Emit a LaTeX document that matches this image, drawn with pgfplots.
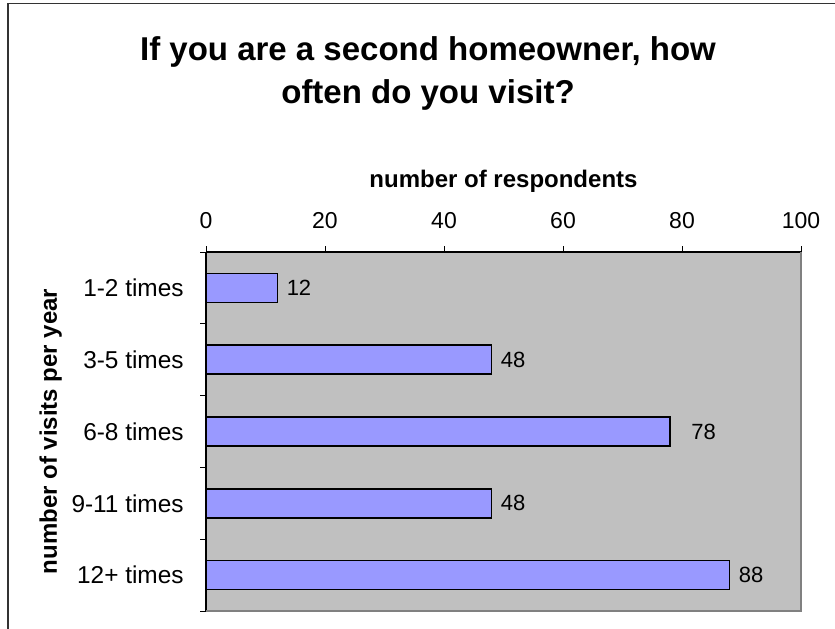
\documentclass[border=0pt]{standalone}
\usepackage{pgfplots}
\usepackage{pgfplotstable}
\pgfplotsset{compat=1.18}
\usepackage{fontspec}
\setmainfont{Liberation Sans}

\definecolor{plotgray}{HTML}{C0C0C0}
\definecolor{barblue}{HTML}{9999FF}
\definecolor{edgegray}{HTML}{808080}

% pos = category row (0 = top), count = respondents, dx = extra label offset
\pgfplotstableread{
pos count dx
0 12 0
1 48 0
2 78 6
3 48 0
4 88 0
}\visits

\begin{document}
\begin{tikzpicture}
\useasboundingbox (0,0) rectangle (417.5pt,-314pt);
\draw[black!80, line width=0.75pt] (4pt,-330pt) -- (4pt,-1.75pt) -- (430pt,-1.75pt);
\node[anchor=base, font=\bfseries\fontsize{16.5}{20}\selectfont] at (214pt,-30pt) {If you are a second homeowner, how};
\node[anchor=base, font=\bfseries\fontsize{16.5}{20}\selectfont] at (214pt,-51.5pt) {often do you visit?};
\begin{axis}[
  at={(103pt,-305.5pt)}, anchor=south west,
  width=297.5pt, height=179.5pt, scale only axis,
  xbar, bar width=14.5pt, bar shift=0pt,
  xmin=0, xmax=100, xtick={0,20,...,100},
  ymin=-0.5, ymax=4.5, y dir=reverse,
  ytick={-0.5,0.5,...,4.5}, yticklabels={},
  extra y ticks={0,1,2,3,4},
  extra y tick labels={1-2 times,3-5 times,6-8 times,9-11 times,12+ times},
  extra y tick style={major tick length=0pt},
  axis x line*=top, axis y line*=left,
  axis line style={line width=0.75pt, black},
  tick align=outside, major tick length=3pt,
  tick style={black, line width=0.5pt},
  axis background/.style={fill=plotgray},
  clip=false,
  /pgf/number format/assume math mode=true,
  tick label style={font=\fontsize{11.5}{13}\selectfont},
  xticklabel style={anchor=south, inner sep=0pt, yshift=8.5pt},
  yticklabel style={anchor=east, inner sep=0pt, xshift=-11pt,
    font=\fontsize{12.2}{14}\selectfont},
  xlabel={number of respondents},
  xlabel style={at={(axis description cs:0.5,1.18106)}, anchor=base,
    font=\bfseries\fontsize{12}{14}\selectfont},
  ylabel={number of visits per year},
  ylabel style={at={(axis description cs:-0.25042,0.5)}, anchor=base,
    font=\bfseries\fontsize{12}{14}\selectfont},
  nodes near coords, point meta=x,
  visualization depends on={\thisrow{dx} \as \dx},
  every node near coord/.append style={anchor=west, inner sep=0pt,
    xshift={(\dx+4.3)*1pt}, black, font=\fontsize{11}{13}\selectfont},
]
\addplot[draw=black, fill=barblue, line width=0.75pt] table[x=count, y=pos] {\visits};
\draw[edgegray, line width=0.75pt] (axis cs:100,-0.5) -- (axis cs:100,4.5) -- (axis cs:0,4.5);
\end{axis}
\end{tikzpicture}
\end{document}
